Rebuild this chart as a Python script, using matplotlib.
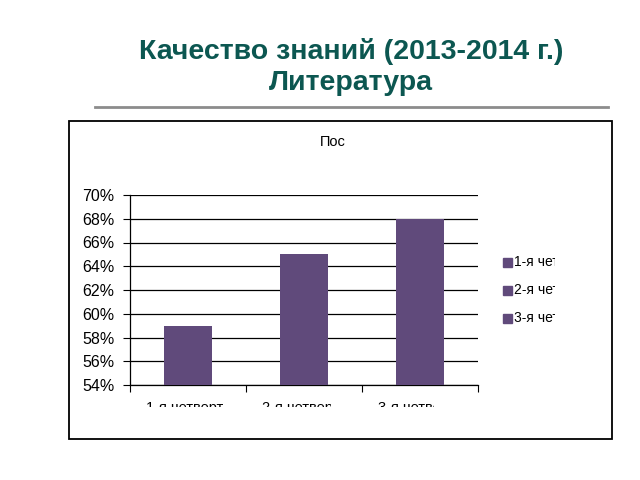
import matplotlib
matplotlib.use("Agg")
import matplotlib.pyplot as plt
from matplotlib.patches import Rectangle
from matplotlib.lines import Line2D
from matplotlib.ticker import FuncFormatter
from matplotlib.transforms import blended_transform_factory

plt.rcParams['font.family'] = ['Liberation Sans', 'DejaVu Sans']

categories = ["1-я четверть", "2-я четверть", "3-я четверть"]
values = [59, 65, 68]
legend_labels = ["1-я четверть", "2-я четверть", "3-я четверть"]
y_ticks = [54, 56, 58, 60, 62, 64, 66, 68, 70]

bar_color = "#604a7b"
title_color = "#0c5751"

W, H = 640, 480
fig = plt.figure(figsize=(6.4, 4.8), dpi=100)


def fx(px):
    return px / W


def fy(py):
    return 1 - py / H


# slide title
fig.text(fx(351), fy(59), "Качество знаний (2013-2014 г.)", ha="center", va="baseline",
         fontsize=20.5, fontweight="bold", color=title_color)
fig.text(fx(351), fy(90), "Литература", ha="center", va="baseline",
         fontsize=20.5, fontweight="bold", color=title_color)
fig.add_artist(Line2D([fx(95), fx(608)], [fy(107), fy(107)], color="#8c8c8c", lw=2))

# chart frame
fig.add_artist(Rectangle((fx(69), fy(439)), fx(612) - fx(69), fy(121) - fy(439),
                         fill=False, edgecolor="black", lw=1.3))
fig.text(fx(333), fy(142), "Пос", ha="center", va="center", fontsize=10.5)

ax = fig.add_axes([fx(130), fy(385), fx(478) - fx(130), fy(195) - fy(385)])
x = range(len(categories))
ax.bar(x, values, width=0.414, color=bar_color, zorder=3)
ax.set_xlim(-0.5, 2.5)
ax.set_ylim(54, 70)
ax.set_yticks(y_ticks)
ax.yaxis.set_major_formatter(FuncFormatter(lambda v, p: f"{v:.0f}%"))
ax.tick_params(axis="y", labelsize=11.5, length=5, direction="out", pad=6)
ax.yaxis.grid(True, color="black", lw=0.9, zorder=0)
for s in ["top", "right"]:
    ax.spines[s].set_visible(False)
ax.spines["left"].set_linewidth(0.9)
ax.spines["bottom"].set_linewidth(0.9)
ax.set_xticks([-0.5, 0.5, 1.5, 2.5])
ax.set_xticklabels([])
ax.tick_params(axis="x", length=5, direction="out")

# category labels, cut off by the chart area as in the original
trans = blended_transform_factory(ax.transData, fig.transFigure)
label_left = [140, 257, 372]
label_right = [223, 331, 434]
for i, lab in enumerate(categories):
    t = ax.text(i, fy(401), lab, transform=trans, ha="center", va="top", fontsize=10.5)
    cr = Rectangle((fx(label_left[i]), fy(407)), fx(label_right[i]) - fx(label_left[i]),
                   fy(401) - fy(407), transform=fig.transFigure, visible=False)
    fig.add_artist(cr)
    t.set_clip_path(cr)
    t.set_clip_on(True)

# legend, cut at the right
leg_clip = Rectangle((fx(495), fy(330)), fx(555) - fx(495), fy(250) - fy(330),
                     transform=fig.transFigure, visible=False)
fig.add_artist(leg_clip)
for i, lab in enumerate(legend_labels):
    yy = 262 + 28 * i
    fig.add_artist(Rectangle((fx(503), fy(yy + 4.5)), fx(9), 9 / H, color=bar_color))
    t = fig.text(fx(514), fy(yy), lab, ha="left", va="center", fontsize=10)
    t.set_clip_path(leg_clip)
    t.set_clip_on(True)

fig.savefig("out.png", dpi=100)
